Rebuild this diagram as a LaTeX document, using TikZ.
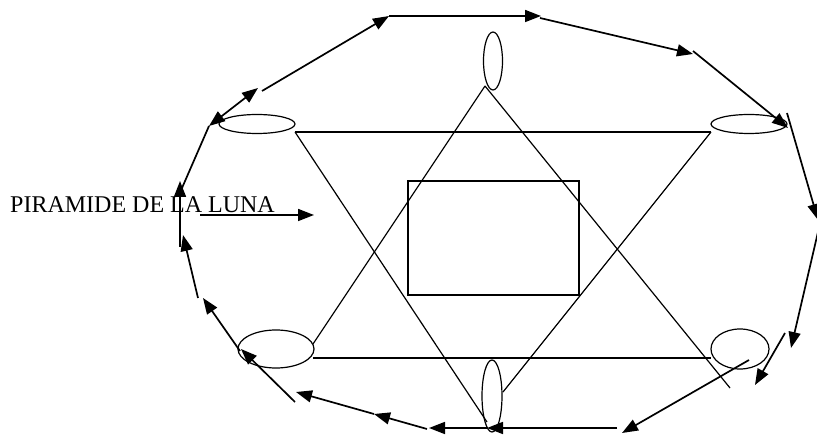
\documentclass[tikz,border=0pt]{standalone}
\usepackage{fontspec}
\setmainfont{Liberation Serif}
\usetikzlibrary{shapes.geometric,arrows.meta}
\begin{document}
\begin{tikzpicture}[x=1pt,y=-1pt,
  thinline/.style={line width=1.2pt, black},
  oval/.style={draw, ellipse, line width=1.2pt, inner sep=0pt},
  flow/.style={line width=1.7pt, -{Triangle[length=16pt,width=12pt]}},
  bothflow/.style={line width=1.7pt, {Triangle[length=16pt,width=12pt]}-{Triangle[length=16pt,width=12pt]}},
  plainflow/.style={line width=1.7pt}]
\useasboundingbox (0,0) rectangle (817,435);

% ovals
\node[oval, minimum width=19pt, minimum height=58pt] (otop) at (493,61) {};
\node[oval, minimum width=76pt, minimum height=19pt] (olt) at (257,124) {};
\node[oval, minimum width=76pt, minimum height=19pt] (ort) at (749,124) {};
\node[oval, minimum width=76pt, minimum height=38pt] (olb) at (276,349) {};
\node[oval, minimum width=58pt, minimum height=40pt] (orb) at (740,349) {};
\node[oval, minimum width=20pt, minimum height=72pt] (obot) at (492,396) {};

% central box
\node[draw, line width=1.2pt, minimum width=171pt, minimum height=114pt, inner sep=0pt] (box) at (493.5,238) {};

% downward triangle
\coordinate (d1) at (295,132);
\coordinate (d2) at (711,132);
\coordinate (d3) at (487,422);
\coordinate (d4) at (503,392);
\draw[thinline] (d1) -- (d2);
\draw[thinline] (d1) -- (d3);
\draw[thinline] (d2) -- (d4);

% upward triangle
\coordinate (u1) at (485,86);
\coordinate (u2) at (313,344);
\coordinate (u3) at (730,388);
\coordinate (u4) at (313,358);
\coordinate (u5) at (711,358);
\draw[thinline] (u1) -- (u2);
\draw[thinline] (u1) -- (u3);
\draw[thinline] (u4) -- (u5);

% label
\node[anchor=base west, inner sep=0pt, font=\fontsize{24}{28}\selectfont] (label) at (10,213) {PIRAMIDE DE LA LUNA};
\coordinate (la) at (200,215);
\coordinate (lb) at (314,215);
\draw[flow] (la) -- (lb);

% outer cycle
\coordinate (p1) at (295,402);
\coordinate (p2) at (241,349);
\coordinate (p3) at (240,351);
\coordinate (p4) at (203,298);
\coordinate (p5) at (198,298);
\coordinate (p6) at (183,235);
\coordinate (p7) at (180,247);
\coordinate (p8) at (180,181);
\coordinate (p9) at (182,188);
\coordinate (p10) at (209,126);
\coordinate (p11) at (258,88);
\coordinate (p12) at (262,91);
\coordinate (p13) at (389,16);
\coordinate (p14) at (541,16);
\coordinate (p15) at (540,18);
\coordinate (p16) at (693,54);
\coordinate (p17) at (693,51);
\coordinate (p18) at (788,128);
\coordinate (p19) at (787,113);
\coordinate (p20) at (818,220);
\coordinate (p21) at (818,232);
\coordinate (p22) at (791,348);
\coordinate (p23) at (785,333);
\coordinate (p24) at (755,385);
\coordinate (p25) at (749,360);
\coordinate (p26) at (622,433);
\coordinate (p27) at (617,428);
\coordinate (p28) at (487,428);
\coordinate (p29) at (429,428);
\coordinate (p30) at (427,429);
\coordinate (p31) at (374,414);
\coordinate (p32) at (296,392);

\draw[flow] (p1) -- (p2);
\draw[flow] (p3) -- (p4);
\draw[flow] (p5) -- (p6);
\draw[flow] (p7) -- (p8);
\draw[plainflow] (p9) -- (p10);
\draw[bothflow] (p10) -- (p11);
\draw[flow] (p12) -- (p13);
\draw[flow] (p13) -- (p14);
\draw[flow] (p15) -- (p16);
\draw[flow] (p17) -- (p18);
\draw[flow] (p19) -- (p20);
\draw[flow] (p21) -- (p22);
\draw[flow] (p23) -- (p24);
\draw[flow] (p25) -- (p26);
\draw[flow] (p27) -- (p28);
\draw[flow] (p28) -- (p29);
\draw[flow] (p30) -- (p31);
\draw[flow] (p31) -- (p32);
\end{tikzpicture}
\end{document}
